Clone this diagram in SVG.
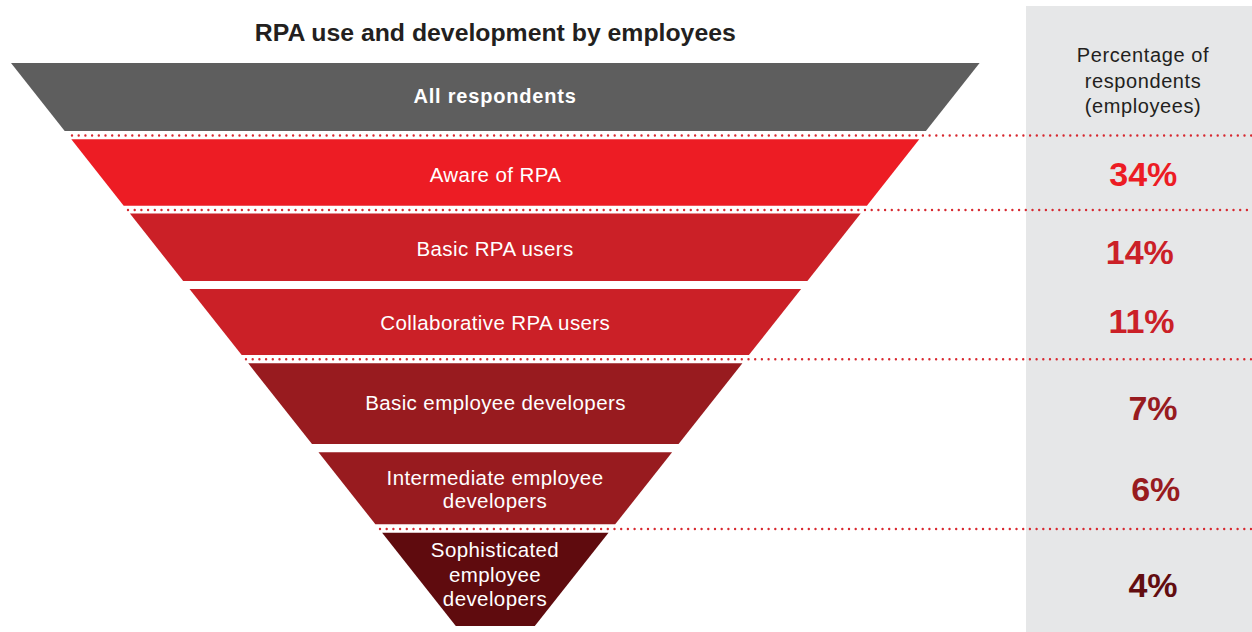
<svg xmlns="http://www.w3.org/2000/svg" width="1252" height="632" viewBox="0 0 1252 632">
<style>
.lbl{font-family:"Liberation Sans",Arial,sans-serif;font-size:20.5px;fill:#ffffff;text-anchor:middle;letter-spacing:0.4px}
.title{font-family:"Liberation Sans",Arial,sans-serif;font-size:24.8px;font-weight:bold;fill:#231f20;text-anchor:middle}
.head{font-family:"Liberation Sans",Arial,sans-serif;font-size:20px;fill:#231f20;text-anchor:middle;letter-spacing:0.6px}
.pct{font-family:"Liberation Sans",Arial,sans-serif;font-size:34px;font-weight:bold;text-anchor:middle}
.dots{stroke:#d7282f;stroke-width:2.4;stroke-linecap:round;stroke-dasharray:0 6.7;fill:none}
</style>
<rect x="0" y="0" width="1252" height="632" fill="#ffffff"/>
<rect id="panel" x="1026" y="6" width="226" height="626" fill="#e6e7e8"/>
<text class="title" x="495.3" y="41">RPA use and development by employees</text>
<g id="header">
<text class="head" x="1143" y="61.7">Percentage of</text>
<text class="head" x="1143" y="87.5">respondents</text>
<text class="head" x="1143" y="113.3">(employees)</text>
</g>
<g id="connectors">
<line class="dots" x1="72" y1="135.5" x2="1252" y2="135.5"/>
<line class="dots" x1="128" y1="210" x2="1252" y2="210"/>
<line class="dots" x1="246" y1="359.3" x2="1252" y2="359.3"/>
<line class="dots" x1="380" y1="529" x2="1252" y2="529"/>
</g>
<g id="all">
<polygon points="11,63 979.6,63 925.9,131 64.7,131" fill="#5e5e5e"/>
<text class="lbl" x="495" y="102.7" style="font-weight:bold;font-size:20px;letter-spacing:0.8px">All respondents</text>
</g>
<g id="aware">
<polygon points="71.3,139.3 919.3,139.3 866.9,205.7 123.7,205.7" fill="#ed1c24"/>
<text class="lbl" x="495.5" y="181.7">Aware of RPA</text>
<text class="pct" x="1143.3" y="186" fill="#ec1c24">34%</text>
</g>
<g id="basicusers">
<polygon points="129.9,213.5 860.7,213.5 807.4,281 183.2,281" fill="#cb2027"/>
<text class="lbl" x="495" y="256">Basic RPA users</text>
<text class="pct" x="1139.8" y="264.3" fill="#cb2027">14%</text>
</g>
<g id="collab">
<polygon points="189.5,289 801.1,289 748.9,355 241.7,355" fill="#cb2027"/>
<text class="lbl" x="495.3" y="330">Collaborative RPA users</text>
<text class="pct" x="1141.5" y="333.3" fill="#cb2027">11%</text>
</g>
<g id="basicdev">
<polygon points="248.2,363.3 742.4,363.3 678.6,444 312,444" fill="#981b1f"/>
<text class="lbl" x="495.5" y="410">Basic employee developers</text>
<text class="pct" x="1153" y="420" fill="#981b1f">7%</text>
</g>
<g id="interdev">
<polygon points="318.5,452.3 672.1,452.3 615.2,524.3 375.4,524.3" fill="#981b1f"/>
<text class="lbl" x="495" y="485">Intermediate employee</text>
<text class="lbl" x="495" y="508.3">developers</text>
<text class="pct" x="1155.7" y="500.7" fill="#981b1f">6%</text>
</g>
<g id="sophdev">
<polygon points="382.1,532.7 608.5,532.7 534.8,626 455.8,626" fill="#5f0b0e"/>
<text class="lbl" x="495" y="557.3">Sophisticated</text>
<text class="lbl" x="495" y="581.7">employee</text>
<text class="lbl" x="495" y="605.5">developers</text>
<text class="pct" x="1153" y="596.7" fill="#620d10">4%</text>
</g>
</svg>
